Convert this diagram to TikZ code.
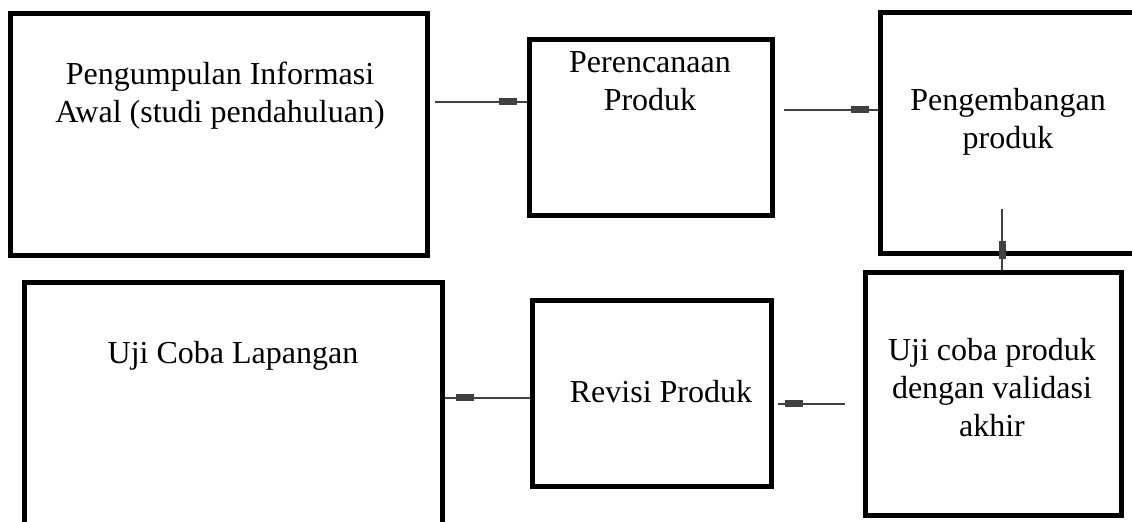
\documentclass[tikz,border=0pt]{standalone}
\usepackage{fontspec}
\setmainfont{Liberation Serif}
\usepackage{xcolor}
\usepackage{tikz}
\colorlet{link line}{black!75}
\tikzset{stage/.style={draw=black, line width=2.5pt, inner sep=0pt},
    caption/.style={align=center, font=\fontsize{16}{19}\selectfont},
    link/.style={draw=link line, line width=1.4pt},
    headmark/.style={fill=link line, sloped, minimum width=9pt, minimum height=3.5pt, inner sep=0pt}}
\usetikzlibrary{positioning}

\begin{document}
\begin{tikzpicture}[x=0.5pt, y=-0.5pt]
    \useasboundingbox (0,0) rectangle (1132,522);
    \clip (0,0) rectangle (1132,522);

    \node[stage, minimum width=208.5pt, minimum height=121pt] (info) at (218.5,135) {};
    \node[stage, minimum width=121.5pt, minimum height=88pt] (plan) at (650.5,128) {};
    \node[stage, minimum width=129pt, minimum height=120.5pt] (dev) at (1009,133.5) {};
    \node[stage, minimum width=209pt, minimum height=126pt] (field) at (233,409) {};
    \node[stage, minimum width=119.5pt, minimum height=93pt] (rev) at (651.5,394) {};
    \node[stage, minimum width=128pt, minimum height=121.5pt] (trial) at (993.5,394.5) {};

    \node[caption] (infotext) at (220,96) {Pengumpulan Informasi\\Awal (studi pendahuluan)};
    \node[caption] (plantext) at (650,81) {Perencanaan\\Produk};
    \node[caption] (devtext) at (1008,122) {Pengembangan\\produk};
    \node[caption] (fieldtext) at (233,356) {Uji Coba Lapangan};
    \node[caption] (revtext) at (661,392) {Revisi Produk};
    \node[caption] (trialtext) at (992,388) {Uji coba produk\\dengan validasi\\akhir};

    \draw[link, shorten <=2.5pt] ([yshift=16.5pt]info.east) -- node[headmark, pos=.81] (m1) {} ([yshift=13pt]plan.west);
    \draw[link, shorten <=4.5pt] ([yshift=9pt]plan.east) -- node[headmark, pos=.83] (m2) {} ([yshift=11.75pt]dev.west);
    \draw[link] ([xshift=-3.5pt, yshift=23.5pt]dev.south) -- node[headmark, pos=.67] (m3) {} ([xshift=4.25pt]trial.north);
    \draw[link] ([yshift=-2pt]rev.west) -- node[headmark, pos=.755] (m4) {} ([yshift=5.5pt]field.east);
    \draw[link, shorten <=9.25pt, shorten >=2pt] ([yshift=-4.75pt]trial.west) -- node[headmark, pos=.767] (m5) {} ([yshift=-5pt]rev.east);
\end{tikzpicture}
\end{document}
